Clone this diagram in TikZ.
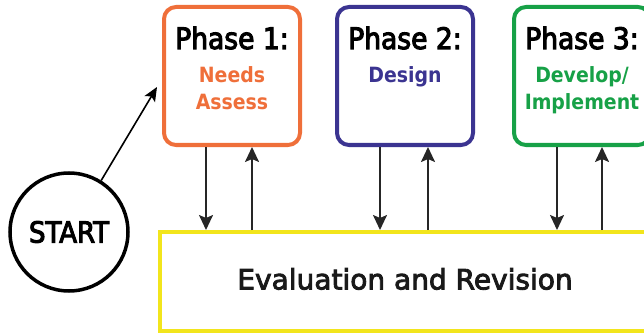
\documentclass[tikz,border=0pt]{standalone}
\usepackage{fontspec}
\setmainfont{DejaVu Sans}
\newfontfamily\condfont[FakeBold=3.5]{DejaVu Sans Condensed}
\newfontfamily\subfont{DejaVu Sans Condensed Bold}
\newfontfamily\widefont[FakeBold=3]{DejaVu Sans}
\usetikzlibrary{arrows.meta,calc}
\definecolor{cOrange}{HTML}{EF6F3A}
\definecolor{cBlue}{HTML}{3B3491}
\definecolor{cGreen}{HTML}{17A147}
\definecolor{cYellow}{HTML}{F2E51C}
\definecolor{cArrow}{HTML}{262626}
\tikzset{
  phasebox/.style={draw, line width=4pt, rounded corners=12pt, minimum width=136pt, minimum height=138pt, inner sep=0pt},
  title/.style={font=\condfont\fontsize{29.5}{30}\selectfont, text=black, inner sep=0pt},
  sub/.style={font=\subfont\fontsize{21}{27.5}\selectfont, align=center, inner sep=0pt},
  flow/.style={draw=cArrow, line width=2pt, -{Stealth[length=15pt,width=14pt,inset=3pt]}},
}
\begin{document}
\begin{tikzpicture}[x=1pt,y=1pt]
\useasboundingbox (0,0) rectangle (644,335);
\clip (0,0) rectangle (644,335);
% phase boxes
\node[phasebox, draw=cOrange] (p1) at (232,259) {};
\node[phasebox, draw=cBlue] (p2) at (405,259) {};
\node[phasebox, draw=cGreen] (p3) at (582,259) {};
% titles
\node[title] (t1) at (232,297) {Phase 1:};
\node[title] (t2) at (405,297) {Phase 2:};
\node[title] (t3) at (582,297) {Phase 3:};
\node[sub, text=cOrange, anchor=north] (s1) at (232,269) {Needs\\Assess};
\node[sub, text=cBlue, anchor=north] (s2) at (405,269) {Design};
\node[sub, text=cGreen, anchor=north] (s3) at (582,269) {Develop/\\Implement};
% evaluation box
\node[draw=cYellow, line width=4pt, minimum width=560pt, minimum height=99pt, inner sep=0pt] (ev) at (440,53.5) {};
\node[font=\widefont\fontsize{28}{30}\selectfont, text=black!90, inner sep=0pt] (evt) at (405,56) {Evaluation and Revision};
% start
\node[draw=black, line width=3.5pt, circle, minimum size=118pt, inner sep=0pt, font=\condfont\fontsize{29}{30}\selectfont] (st) at (69,103) {START};
\coordinate (stip) at (157,248);
\draw[draw=black, line width=1.6pt, -{Stealth[length=14pt,width=12pt,inset=3pt]}] (st.58) -- (stip);
% vertical arrows
\foreach \p/\xd/\xu in {p1/206/252, p2/380/428, p3/557/602}{
  \draw[flow] (\p.south -| \xd,0) -- (ev.north -| \xd,0);
  \draw[flow] (ev.north -| \xu,0) -- (\p.south -| \xu,0);
}
\end{tikzpicture}
\end{document}
